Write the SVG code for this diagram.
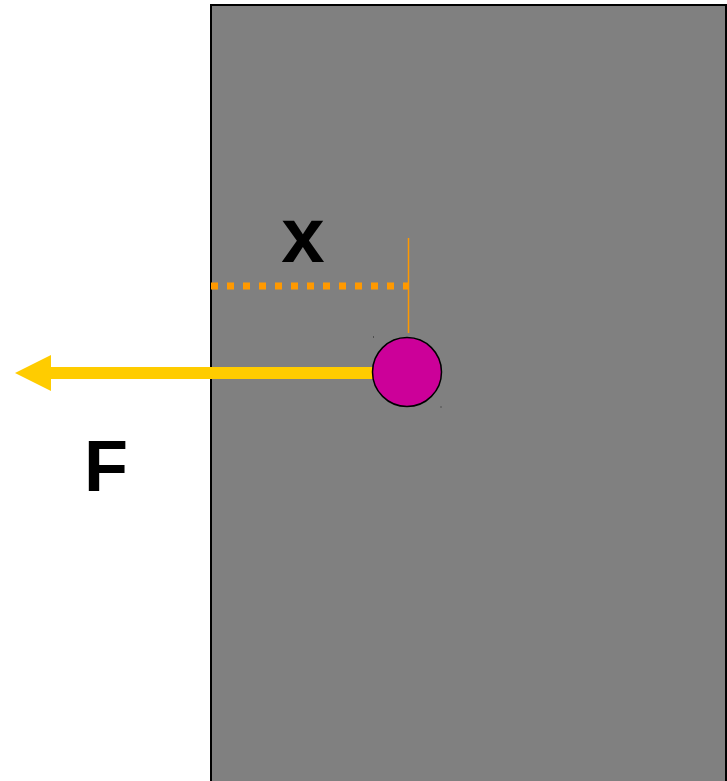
<svg xmlns="http://www.w3.org/2000/svg" width="727" height="781" viewBox="0 0 727 781">
<style>
.lbl{font-family:"Liberation Sans",Arial,sans-serif;font-weight:bold;fill:#000}
</style>
<rect width="727" height="781" fill="#fff"/>
<g id="plate">
<rect x="211" y="5" width="515" height="790" fill="#808080" stroke="#000" stroke-width="2"/>
</g>
<g id="connectors">
<line x1="211" y1="286" x2="408" y2="286" stroke="#FF9900" stroke-width="7" stroke-dasharray="7 9"/>
<line x1="408.5" y1="238" x2="408.5" y2="333" stroke="#FF9900" stroke-width="1.5"/>
<line x1="374" y1="373" x2="49" y2="373" stroke="#FFCC00" stroke-width="12"/>
<path d="M51,355 L15,373 L51,391 Z" fill="#FFCC00"/>
</g>
<g id="mass">
<circle cx="407" cy="372" r="34.5" fill="#CC0099" stroke="#000" stroke-width="1.5"/>
<rect x="373" y="336.5" width="1" height="1" fill="#222"/>
<rect x="440.5" y="406.5" width="1" height="1" fill="#222"/>
</g>
<g id="label-x"><text class="lbl" x="303" y="262" font-size="78" text-anchor="middle">x</text></g>
<g id="label-F"><text class="lbl" x="84" y="491" font-size="72">F</text></g>
</svg>
